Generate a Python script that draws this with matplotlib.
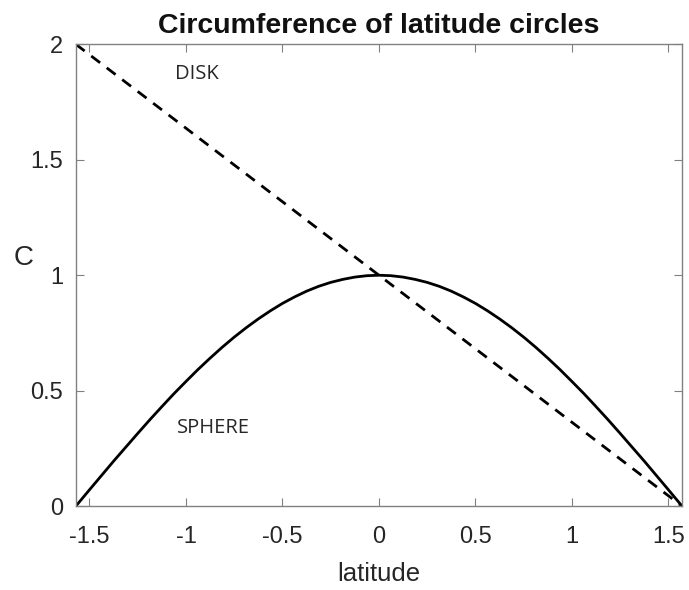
import numpy as np
import matplotlib.pyplot as plt

plt.rcParams['font.family'] = ['Liberation Sans', 'DejaVu Sans']

# latitude samples (radians) and circumference on the unit sphere
latitude = [-1.5708, -1.5, -1.4375, -1.375, -1.3125, -1.25, -1.1875, -1.125,
            -1.0625, -1.0, -0.9375, -0.875, -0.8125, -0.75, -0.6875, -0.625,
            -0.5625, -0.5, -0.4375, -0.375, -0.3125, -0.25, -0.1875, -0.125,
            -0.0625, 0.0,
            0.0625, 0.125, 0.1875, 0.25, 0.3125, 0.375, 0.4375, 0.5,
            0.5625, 0.625, 0.6875, 0.75, 0.8125, 0.875, 0.9375, 1.0,
            1.0625, 1.125, 1.1875, 1.25, 1.3125, 1.375, 1.4375, 1.5, 1.5708]
sphere_c = [0.0, 0.071, 0.133, 0.195, 0.255, 0.315, 0.374, 0.431,
            0.487, 0.540, 0.592, 0.641, 0.688, 0.732, 0.773, 0.811,
            0.846, 0.878, 0.906, 0.931, 0.952, 0.969, 0.982, 0.992,
            0.998, 1.0,
            0.998, 0.992, 0.982, 0.969, 0.952, 0.931, 0.906, 0.878,
            0.846, 0.811, 0.773, 0.732, 0.688, 0.641, 0.592, 0.540,
            0.487, 0.431, 0.374, 0.315, 0.255, 0.195, 0.133, 0.071, 0.0]

# flat disk: circumference falls linearly from pole to pole
disk_lat = [-1.5708, 1.5708]
disk_c = [2.0, 0.0]

xticks = [-1.5, -1, -0.5, 0, 0.5, 1, 1.5]
xtick_labels = ['-1.5', '-1', '-0.5', '0', '0.5', '1', '1.5']
yticks = [0, 0.5, 1, 1.5, 2]
ytick_labels = ['0', '0.5', '1', '1.5', '2']

fig = plt.figure(figsize=(6.89, 5.9), dpi=100)
ax = fig.add_axes([0.110, 0.142, 0.880, 0.783])

ax.plot(latitude, sphere_c, color='black', lw=2.0, solid_joinstyle='round')
ax.plot(disk_lat, disk_c, color='black', lw=2.0, ls=(0, (4, 3)))

ax.set_xlim(-1.5708, 1.5708)
ax.set_ylim(0, 2)
ax.set_xticks(xticks, xtick_labels)
ax.set_yticks(yticks, ytick_labels)

for s in ax.spines.values():
    s.set_color('#808080')
    s.set_linewidth(1.0)
ax.tick_params(direction='in', length=6, width=0.8, color='#808080',
               labelsize=17, labelcolor='#262626', top=True, right=True)
ax.tick_params(axis='x', pad=14)
ax.tick_params(axis='y', pad=9)

ax.set_xlabel('latitude', fontsize=18.5, color='#262626', labelpad=10)
ax.set_ylabel('C', fontsize=20, color='#262626', rotation=0,
              va='center', ha='center')
ax.yaxis.set_label_coords(-0.086, 0.537)
ax.set_title('Circumference of latitude circles', fontsize=20.5,
             fontweight='bold', color='#111111', pad=8)

ax.text(-1.057, 1.87, 'DISK', fontsize=14.5, family='Open Sans',
        color='#262626', va='center')
ax.text(-1.047, 0.338, 'SPHERE', fontsize=14.5, family='Open Sans',
        color='#262626', va='center')

fig.savefig('out.png', dpi=100)
